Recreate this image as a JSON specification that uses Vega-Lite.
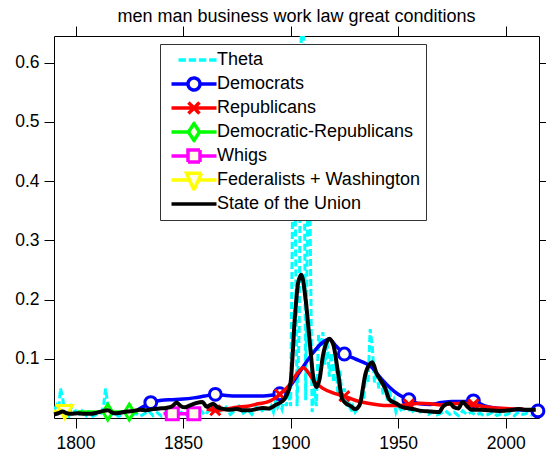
{
  "$schema": "https://vega.github.io/schema/vega-lite/v6.json",
  "width": 485,
  "height": 382,
  "autosize": {"type": "none"},
  "padding": {"left": 54, "top": 36, "right": 7, "bottom": 38},
  "background": "white",
  "title": {"text": "men man business work law great conditions", "fontSize": 18, "font": "Liberation Sans", "fontWeight": "normal", "color": "black", "offset": 0, "anchor": "middle"},
  "config": {
    "font": "Liberation Sans",
    "view": {"stroke": null},
    "axis": {"domainColor": "black", "tickColor": "black", "labelColor": "black", "labelFont": "Liberation Sans", "labelFontSize": 17.5, "tickSize": 10, "grid": false, "domainWidth": 1, "tickWidth": 1, "labelOverlap": false}
  },
  "datasets": {
    "theta": [
      {"s":"Theta","x":1790,"y":0.012},{"s":"Theta","x":1791,"y":0.02},{"s":"Theta","x":1792,"y":0.006},{"s":"Theta","x":1793,"y":0.05},{"s":"Theta","x":1794,"y":0.035},{"s":"Theta","x":1795,"y":0.008},{"s":"Theta","x":1796,"y":0.015},{"s":"Theta","x":1797,"y":0.004},{"s":"Theta","x":1798,"y":0.018},{"s":"Theta","x":1799,"y":0.01},{"s":"Theta","x":1800,"y":0.012},{"s":"Theta","x":1801,"y":0.003},{"s":"Theta","x":1803,"y":0.012},{"s":"Theta","x":1805,"y":0.004},{"s":"Theta","x":1806,"y":0.01},{"s":"Theta","x":1808,"y":0.003},{"s":"Theta","x":1810,"y":0.006},{"s":"Theta","x":1812,"y":0.008},{"s":"Theta","x":1813,"y":0.02},{"s":"Theta","x":1814,"y":0.05},{"s":"Theta","x":1815,"y":0.022},{"s":"Theta","x":1816,"y":0.004},{"s":"Theta","x":1818,"y":0.008},{"s":"Theta","x":1820,"y":0.003},{"s":"Theta","x":1822,"y":0.006},{"s":"Theta","x":1824,"y":0.01},{"s":"Theta","x":1826,"y":0.004},{"s":"Theta","x":1828,"y":0.008},{"s":"Theta","x":1830,"y":0.003},{"s":"Theta","x":1832,"y":0.007},{"s":"Theta","x":1834,"y":0.012},{"s":"Theta","x":1836,"y":0.004},{"s":"Theta","x":1838,"y":0.009},{"s":"Theta","x":1840,"y":0.003},{"s":"Theta","x":1842,"y":0.01},{"s":"Theta","x":1844,"y":0.005},{"s":"Theta","x":1846,"y":0.015},{"s":"Theta","x":1848,"y":0.006},{"s":"Theta","x":1850,"y":0.012},{"s":"Theta","x":1852,"y":0.004},{"s":"Theta","x":1854,"y":0.01},{"s":"Theta","x":1856,"y":0.006},{"s":"Theta","x":1858,"y":0.014},{"s":"Theta","x":1860,"y":0.005},{"s":"Theta","x":1862,"y":0.012},{"s":"Theta","x":1864,"y":0.02},{"s":"Theta","x":1865,"y":0.008},{"s":"Theta","x":1866,"y":0.015},{"s":"Theta","x":1868,"y":0.01},{"s":"Theta","x":1870,"y":0.018},{"s":"Theta","x":1872,"y":0.006},{"s":"Theta","x":1874,"y":0.012},{"s":"Theta","x":1876,"y":0.02},{"s":"Theta","x":1878,"y":0.008},{"s":"Theta","x":1880,"y":0.014},{"s":"Theta","x":1882,"y":0.006},{"s":"Theta","x":1884,"y":0.018},{"s":"Theta","x":1886,"y":0.01},{"s":"Theta","x":1888,"y":0.016},{"s":"Theta","x":1890,"y":0.012},{"s":"Theta","x":1891,"y":0.02},{"s":"Theta","x":1892,"y":0.01},{"s":"Theta","x":1893,"y":0.03},{"s":"Theta","x":1894,"y":0.018},{"s":"Theta","x":1895,"y":0.025},{"s":"Theta","x":1896,"y":0.015},{"s":"Theta","x":1897,"y":0.035},{"s":"Theta","x":1898,"y":0.02},{"s":"Theta","x":1899,"y":0.045},{"s":"Theta","x":1900,"y":0.02},{"s":"Theta","x":1901,"y":0.38},{"s":"Theta","x":1902,"y":0.42},{"s":"Theta","x":1903,"y":0.02},{"s":"Theta","x":1904,"y":0.15},{"s":"Theta","x":1905,"y":0.68},{"s":"Theta","x":1906,"y":0.7},{"s":"Theta","x":1907,"y":0.03},{"s":"Theta","x":1908,"y":0.38},{"s":"Theta","x":1909,"y":0.36},{"s":"Theta","x":1910,"y":0.01},{"s":"Theta","x":1911,"y":0.05},{"s":"Theta","x":1912,"y":0.02},{"s":"Theta","x":1913,"y":0.14},{"s":"Theta","x":1914,"y":0.12},{"s":"Theta","x":1915,"y":0.145},{"s":"Theta","x":1916,"y":0.09},{"s":"Theta","x":1917,"y":0.13},{"s":"Theta","x":1918,"y":0.07},{"s":"Theta","x":1919,"y":0.11},{"s":"Theta","x":1920,"y":0.06},{"s":"Theta","x":1921,"y":0.1},{"s":"Theta","x":1922,"y":0.04},{"s":"Theta","x":1923,"y":0.08},{"s":"Theta","x":1924,"y":0.03},{"s":"Theta","x":1925,"y":0.05},{"s":"Theta","x":1926,"y":0.02},{"s":"Theta","x":1927,"y":0.03},{"s":"Theta","x":1928,"y":0.01},{"s":"Theta","x":1929,"y":0.02},{"s":"Theta","x":1930,"y":0.01},{"s":"Theta","x":1931,"y":0.015},{"s":"Theta","x":1932,"y":0.02},{"s":"Theta","x":1933,"y":0.04},{"s":"Theta","x":1934,"y":0.03},{"s":"Theta","x":1935,"y":0.08},{"s":"Theta","x":1936,"y":0.06},{"s":"Theta","x":1937,"y":0.15},{"s":"Theta","x":1938,"y":0.12},{"s":"Theta","x":1939,"y":0.06},{"s":"Theta","x":1940,"y":0.08},{"s":"Theta","x":1941,"y":0.05},{"s":"Theta","x":1942,"y":0.07},{"s":"Theta","x":1943,"y":0.04},{"s":"Theta","x":1944,"y":0.06},{"s":"Theta","x":1945,"y":0.03},{"s":"Theta","x":1946,"y":0.05},{"s":"Theta","x":1947,"y":0.02},{"s":"Theta","x":1948,"y":0.03},{"s":"Theta","x":1949,"y":0.01},{"s":"Theta","x":1950,"y":0.02},{"s":"Theta","x":1952,"y":0.01},{"s":"Theta","x":1954,"y":0.025},{"s":"Theta","x":1956,"y":0.008},{"s":"Theta","x":1958,"y":0.015},{"s":"Theta","x":1960,"y":0.01},{"s":"Theta","x":1962,"y":0.012},{"s":"Theta","x":1964,"y":0.006},{"s":"Theta","x":1966,"y":0.01},{"s":"Theta","x":1968,"y":0.005},{"s":"Theta","x":1970,"y":0.008},{"s":"Theta","x":1972,"y":0.012},{"s":"Theta","x":1974,"y":0.006},{"s":"Theta","x":1976,"y":0.01},{"s":"Theta","x":1978,"y":0.004},{"s":"Theta","x":1980,"y":0.012},{"s":"Theta","x":1982,"y":0.006},{"s":"Theta","x":1984,"y":0.01},{"s":"Theta","x":1986,"y":0.005},{"s":"Theta","x":1988,"y":0.008},{"s":"Theta","x":1990,"y":0.004},{"s":"Theta","x":1992,"y":0.006},{"s":"Theta","x":1994,"y":0.01},{"s":"Theta","x":1996,"y":0.004},{"s":"Theta","x":1998,"y":0.007},{"s":"Theta","x":2000,"y":0.005},{"s":"Theta","x":2002,"y":0.008},{"s":"Theta","x":2004,"y":0.004},{"s":"Theta","x":2006,"y":0.01},{"s":"Theta","x":2008,"y":0.006},{"s":"Theta","x":2010,"y":0.008},{"s":"Theta","x":2012,"y":0.005},{"s":"Theta","x":2014,"y":0.01}
    ],
    "parties": [
      {"s":"Democrats","x":1829,"y":0.014},{"s":"Democrats","x":1832,"y":0.02},{"s":"Democrats","x":1835,"y":0.026},{"s":"Democrats","x":1840,"y":0.03},{"s":"Democrats","x":1845,"y":0.031},{"s":"Democrats","x":1850,"y":0.032},{"s":"Democrats","x":1855,"y":0.034},{"s":"Democrats","x":1860,"y":0.037},{"s":"Democrats","x":1865,"y":0.04},{"s":"Democrats","x":1870,"y":0.038},{"s":"Democrats","x":1875,"y":0.037},{"s":"Democrats","x":1880,"y":0.037},{"s":"Democrats","x":1885,"y":0.037},{"s":"Democrats","x":1890,"y":0.038},{"s":"Democrats","x":1895,"y":0.041},{"s":"Democrats","x":1900,"y":0.055},{"s":"Democrats","x":1905,"y":0.082},{"s":"Democrats","x":1910,"y":0.108},{"s":"Democrats","x":1915,"y":0.128},{"s":"Democrats","x":1918,"y":0.133},{"s":"Democrats","x":1921,"y":0.122},{"s":"Democrats","x":1925,"y":0.108},{"s":"Democrats","x":1930,"y":0.1},{"s":"Democrats","x":1935,"y":0.092},{"s":"Democrats","x":1938,"y":0.085},{"s":"Democrats","x":1940,"y":0.076},{"s":"Democrats","x":1943,"y":0.063},{"s":"Democrats","x":1946,"y":0.052},{"s":"Democrats","x":1950,"y":0.04},{"s":"Democrats","x":1955,"y":0.031},{"s":"Democrats","x":1960,"y":0.024},{"s":"Democrats","x":1965,"y":0.023},{"s":"Democrats","x":1970,"y":0.026},{"s":"Democrats","x":1975,"y":0.028},{"s":"Democrats","x":1980,"y":0.028},{"s":"Democrats","x":1985,"y":0.029},{"s":"Democrats","x":1990,"y":0.021},{"s":"Democrats","x":1995,"y":0.017},{"s":"Democrats","x":2000,"y":0.015},{"s":"Democrats","x":2005,"y":0.014},{"s":"Democrats","x":2010,"y":0.013},{"s":"Democrats","x":2015,"y":0.012},
      {"s":"Republicans","x":1861,"y":0.015},{"s":"Republicans","x":1865,"y":0.013},{"s":"Republicans","x":1870,"y":0.015},{"s":"Republicans","x":1875,"y":0.018},{"s":"Republicans","x":1880,"y":0.02},{"s":"Republicans","x":1885,"y":0.024},{"s":"Republicans","x":1890,"y":0.028},{"s":"Republicans","x":1895,"y":0.04},{"s":"Republicans","x":1900,"y":0.058},{"s":"Republicans","x":1903,"y":0.075},{"s":"Republicans","x":1906,"y":0.085},{"s":"Republicans","x":1908,"y":0.078},{"s":"Republicans","x":1911,"y":0.062},{"s":"Republicans","x":1915,"y":0.05},{"s":"Republicans","x":1920,"y":0.042},{"s":"Republicans","x":1925,"y":0.037},{"s":"Republicans","x":1930,"y":0.03},{"s":"Republicans","x":1936,"y":0.025},{"s":"Republicans","x":1945,"y":0.021},{"s":"Republicans","x":1950,"y":0.021},{"s":"Republicans","x":1955,"y":0.023},{"s":"Republicans","x":1960,"y":0.025},{"s":"Republicans","x":1965,"y":0.024},{"s":"Republicans","x":1970,"y":0.022},{"s":"Republicans","x":1975,"y":0.024},{"s":"Republicans","x":1980,"y":0.025},{"s":"Republicans","x":1985,"y":0.023},{"s":"Republicans","x":1990,"y":0.019},{"s":"Republicans","x":1995,"y":0.017},{"s":"Republicans","x":2000,"y":0.016},{"s":"Republicans","x":2005,"y":0.015},{"s":"Republicans","x":2008,"y":0.015},
      {"s":"Democratic-Republicans","x":1801,"y":0.01},{"s":"Democratic-Republicans","x":1805,"y":0.01},{"s":"Democratic-Republicans","x":1810,"y":0.01},{"s":"Democratic-Republicans","x":1815,"y":0.01},{"s":"Democratic-Republicans","x":1820,"y":0.01},{"s":"Democratic-Republicans","x":1825,"y":0.01},{"s":"Democratic-Republicans","x":1829,"y":0.01},
      {"s":"Whigs","x":1841,"y":0.007},{"s":"Whigs","x":1845,"y":0.007},{"s":"Whigs","x":1850,"y":0.007},{"s":"Whigs","x":1855,"y":0.007},{"s":"Whigs","x":1857,"y":0.007},
      {"s":"Federalists + Washington","x":1790,"y":0.011},{"s":"Federalists + Washington","x":1793,"y":0.011},{"s":"Federalists + Washington","x":1795,"y":0.01},{"s":"Federalists + Washington","x":1798,"y":0.011}
    ],
    "markers": [
      {"s":"Democrats","x":1835,"y":0.026},{"s":"Democrats","x":1865,"y":0.04},{"s":"Democrats","x":1895,"y":0.041},{"s":"Democrats","x":1925,"y":0.108},{"s":"Democrats","x":1955,"y":0.031},{"s":"Democrats","x":1985,"y":0.029},{"s":"Democrats","x":2015,"y":0.012},
      {"s":"Republicans","x":1865,"y":0.013},{"s":"Republicans","x":1895,"y":0.04},{"s":"Republicans","x":1925,"y":0.037},{"s":"Republicans","x":1955,"y":0.023},{"s":"Republicans","x":1985,"y":0.023},
      {"s":"Democratic-Republicans","x":1815,"y":0.01},{"s":"Democratic-Republicans","x":1825,"y":0.01},
      {"s":"Whigs","x":1845,"y":0.007},{"s":"Whigs","x":1855,"y":0.007},
      {"s":"Federalists + Washington","x":1795,"y":0.01}
    ],
    "sotu": [
      {"s":"State of the Union","x":1790,"y":0.006},{"s":"State of the Union","x":1792,"y":0.008},{"s":"State of the Union","x":1794,"y":0.011},{"s":"State of the Union","x":1796,"y":0.008},{"s":"State of the Union","x":1798,"y":0.007},{"s":"State of the Union","x":1801,"y":0.008},{"s":"State of the Union","x":1804,"y":0.007},{"s":"State of the Union","x":1807,"y":0.007},{"s":"State of the Union","x":1810,"y":0.009},{"s":"State of the Union","x":1813,"y":0.012},{"s":"State of the Union","x":1815,"y":0.013},{"s":"State of the Union","x":1818,"y":0.008},{"s":"State of the Union","x":1821,"y":0.009},{"s":"State of the Union","x":1824,"y":0.011},{"s":"State of the Union","x":1827,"y":0.012},{"s":"State of the Union","x":1830,"y":0.014},{"s":"State of the Union","x":1833,"y":0.013},{"s":"State of the Union","x":1836,"y":0.015},{"s":"State of the Union","x":1839,"y":0.016},{"s":"State of the Union","x":1842,"y":0.017},{"s":"State of the Union","x":1845,"y":0.02},{"s":"State of the Union","x":1847,"y":0.026},{"s":"State of the Union","x":1849,"y":0.02},{"s":"State of the Union","x":1851,"y":0.018},{"s":"State of the Union","x":1853,"y":0.021},{"s":"State of the Union","x":1856,"y":0.025},{"s":"State of the Union","x":1859,"y":0.027},{"s":"State of the Union","x":1861,"y":0.019},{"s":"State of the Union","x":1864,"y":0.024},{"s":"State of the Union","x":1866,"y":0.018},{"s":"State of the Union","x":1868,"y":0.016},{"s":"State of the Union","x":1871,"y":0.014},{"s":"State of the Union","x":1875,"y":0.015},{"s":"State of the Union","x":1878,"y":0.013},{"s":"State of the Union","x":1881,"y":0.013},{"s":"State of the Union","x":1884,"y":0.015},{"s":"State of the Union","x":1887,"y":0.017},{"s":"State of the Union","x":1890,"y":0.016},{"s":"State of the Union","x":1893,"y":0.022},{"s":"State of the Union","x":1896,"y":0.028},{"s":"State of the Union","x":1898,"y":0.037},{"s":"State of the Union","x":1900,"y":0.06},{"s":"State of the Union","x":1902,"y":0.17},{"s":"State of the Union","x":1903.5,"y":0.228},{"s":"State of the Union","x":1905,"y":0.242},{"s":"State of the Union","x":1907,"y":0.2},{"s":"State of the Union","x":1909,"y":0.125},{"s":"State of the Union","x":1910.5,"y":0.07},{"s":"State of the Union","x":1912,"y":0.052},{"s":"State of the Union","x":1913.5,"y":0.066},{"s":"State of the Union","x":1915,"y":0.104},{"s":"State of the Union","x":1917,"y":0.13},{"s":"State of the Union","x":1918,"y":0.134},{"s":"State of the Union","x":1920,"y":0.122},{"s":"State of the Union","x":1922,"y":0.078},{"s":"State of the Union","x":1924,"y":0.032},{"s":"State of the Union","x":1926,"y":0.024},{"s":"State of the Union","x":1928,"y":0.02},{"s":"State of the Union","x":1930,"y":0.015},{"s":"State of the Union","x":1932,"y":0.021},{"s":"State of the Union","x":1935,"y":0.077},{"s":"State of the Union","x":1938,"y":0.094},{"s":"State of the Union","x":1940,"y":0.075},{"s":"State of the Union","x":1942,"y":0.063},{"s":"State of the Union","x":1944,"y":0.05},{"s":"State of the Union","x":1946,"y":0.031},{"s":"State of the Union","x":1949,"y":0.025},{"s":"State of the Union","x":1951,"y":0.02},{"s":"State of the Union","x":1954,"y":0.017},{"s":"State of the Union","x":1957,"y":0.015},{"s":"State of the Union","x":1961,"y":0.012},{"s":"State of the Union","x":1965,"y":0.011},{"s":"State of the Union","x":1969,"y":0.01},{"s":"State of the Union","x":1971,"y":0.02},{"s":"State of the Union","x":1974,"y":0.025},{"s":"State of the Union","x":1976,"y":0.018},{"s":"State of the Union","x":1978,"y":0.016},{"s":"State of the Union","x":1980,"y":0.027},{"s":"State of the Union","x":1982,"y":0.02},{"s":"State of the Union","x":1984,"y":0.014},{"s":"State of the Union","x":1988,"y":0.014},{"s":"State of the Union","x":1992,"y":0.013},{"s":"State of the Union","x":1997,"y":0.012},{"s":"State of the Union","x":2002,"y":0.013},{"s":"State of the Union","x":2006,"y":0.015},{"s":"State of the Union","x":2010,"y":0.014},{"s":"State of the Union","x":2014,"y":0.014}
    ]
  },
  "resolve": {"axis": {"x": "independent", "y": "independent"}},
  "layer": [
    {
      "data": {"name": "theta"},
      "mark": {"type": "line", "strokeWidth": 3, "strokeDash": [7, 3], "clip": true},
      "encoding": {
        "x": {"field": "x", "type": "quantitative", "scale": {"domain": [1790, 2015.5], "nice": false, "zero": false}, "axis": {"orient": "bottom", "values": [1800, 1850, 1900, 1950, 2000], "format": "d", "title": null, "labelPadding": 6}},
        "y": {"field": "y", "type": "quantitative", "scale": {"domain": [0, 0.645], "nice": false, "zero": false}, "axis": {"orient": "left", "values": [0.1, 0.2, 0.3, 0.4, 0.5, 0.6], "format": ".1f", "title": null, "labelPadding": 5}},
        "color": {"field": "s", "type": "nominal", "sort": null,
          "scale": {"domain": ["Theta", "Democrats", "Republicans", "Democratic-Republicans", "Whigs", "Federalists + Washington", "State of the Union"], "range": ["#00FFFF", "#0000FF", "#FF0000", "#00FF00", "#FF00FF", "#FFFF00", "#000000"]},
          "legend": {"title": null, "orient": "none", "legendX": 106, "legendY": 8, "fillColor": "white", "strokeColor": "#333333", "padding": 5.5, "symbolSize": 100, "symbolStrokeWidth": 3.5, "labelFont": "Liberation Sans", "labelFontSize": 18, "labelColor": "black", "labelOffset": 33.5, "rowPadding": 3, "clipHeight": 21, "gridAlign": "all", "labelLimit": 0,
            "encoding": {"symbols": {
              "fill": {"value": "#FFFDE8"},
              "strokeWidth": {"value": 3.5},
              "strokeDash": {"value": [1, 0]},
              "size": {"value": 100},
              "shape": {"value": {"expr": "datum.value == 'Theta' ? 'M0.8,0H2.29M2.84,0H4.33M4.88,0H6.37M6.92,0H8.4' : datum.value == 'Democrats' ? 'M-0.6,0H2.7M5.1,0H8.4M5.1,0A1.2,1.2,0,1,1,2.7,0A1.2,1.2,0,1,1,5.1,0' : datum.value == 'Republicans' ? 'M-0.6,0H8.4M2.8,-1.1L5,1.1M2.8,1.1L5,-1.1' : datum.value == 'Democratic-Republicans' ? 'M-0.6,0H2.8M5,0H8.4M3.9,-1.7L5,0L3.9,1.7L2.8,0Z' : datum.value == 'Whigs' ? 'M-0.6,0H2.7M5.1,0H8.4M2.7,-1.2H5.1V1.2H2.7Z' : datum.value == 'Federalists + Washington' ? 'M-0.6,0H3M4.8,0H8.4M2.4,-1.35H5.4L3.9,2Z' : 'M-0.6,0H8.4'"}}
            }}
          }
        }
      }
    },
    {
      "data": {"name": "parties"},
      "transform": [{"filter": "datum.s == 'Democrats'"}],
      "mark": {"type": "line", "strokeWidth": 3.5, "interpolate": "monotone"},
      "encoding": {
        "x": {"field": "x", "type": "quantitative", "axis": null},
        "y": {"field": "y", "type": "quantitative", "axis": null},
        "color": {"field": "s", "type": "nominal"}
      }
    },
    {
      "data": {"name": "markers"},
      "transform": [{"filter": "datum.s == 'Democrats'"}],
      "mark": {"type": "point", "shape": "circle", "size": 140, "filled": true, "fill": "#FFFDE8", "stroke": "#0000FF", "strokeWidth": 3, "opacity": 1},
      "encoding": {
        "x": {"field": "x", "type": "quantitative", "axis": null},
        "y": {"field": "y", "type": "quantitative", "axis": null}
      }
    },
    {
      "data": {"name": "parties"},
      "transform": [{"filter": "datum.s == 'Republicans'"}],
      "mark": {"type": "line", "strokeWidth": 3.5, "interpolate": "monotone"},
      "encoding": {
        "x": {"field": "x", "type": "quantitative", "axis": null},
        "y": {"field": "y", "type": "quantitative", "axis": null},
        "color": {"field": "s", "type": "nominal"}
      }
    },
    {
      "data": {"name": "markers"},
      "transform": [{"filter": "datum.s == 'Republicans'"}],
      "mark": {"type": "point", "shape": "M-1,-1L1,1M-1,1L1,-1", "size": 100, "filled": false, "stroke": "#FF0000", "strokeWidth": 3, "opacity": 1},
      "encoding": {
        "x": {"field": "x", "type": "quantitative", "axis": null},
        "y": {"field": "y", "type": "quantitative", "axis": null}
      }
    },
    {
      "data": {"name": "parties"},
      "transform": [{"filter": "datum.s == 'Democratic-Republicans'"}],
      "mark": {"type": "line", "strokeWidth": 3.5},
      "encoding": {
        "x": {"field": "x", "type": "quantitative", "axis": null},
        "y": {"field": "y", "type": "quantitative", "axis": null},
        "color": {"field": "s", "type": "nominal"}
      }
    },
    {
      "data": {"name": "markers"},
      "transform": [{"filter": "datum.s == 'Democratic-Republicans'"}],
      "mark": {"type": "point", "shape": "M-0.6,0L0,-1L0.6,0L0,1Z", "size": 256, "filled": true, "fill": "#FFFDE8", "stroke": "#00FF00", "strokeWidth": 3, "opacity": 1},
      "encoding": {
        "x": {"field": "x", "type": "quantitative", "axis": null},
        "y": {"field": "y", "type": "quantitative", "axis": null}
      }
    },
    {
      "data": {"name": "parties"},
      "transform": [{"filter": "datum.s == 'Whigs'"}],
      "mark": {"type": "line", "strokeWidth": 3.5},
      "encoding": {
        "x": {"field": "x", "type": "quantitative", "axis": null},
        "y": {"field": "y", "type": "quantitative", "axis": null},
        "color": {"field": "s", "type": "nominal"}
      }
    },
    {
      "data": {"name": "markers"},
      "transform": [{"filter": "datum.s == 'Whigs'"}],
      "mark": {"type": "point", "shape": "square", "size": 144, "filled": true, "fill": "#FFFDE8", "stroke": "#FF00FF", "strokeWidth": 3, "opacity": 1},
      "encoding": {
        "x": {"field": "x", "type": "quantitative", "axis": null},
        "y": {"field": "y", "type": "quantitative", "axis": null}
      }
    },
    {
      "data": {"name": "parties"},
      "transform": [{"filter": "datum.s == 'Federalists + Washington'"}],
      "mark": {"type": "line", "strokeWidth": 3.5},
      "encoding": {
        "x": {"field": "x", "type": "quantitative", "axis": null},
        "y": {"field": "y", "type": "quantitative", "axis": null},
        "color": {"field": "s", "type": "nominal"}
      }
    },
    {
      "data": {"name": "markers"},
      "transform": [{"filter": "datum.s == 'Federalists + Washington'"}],
      "mark": {"type": "point", "shape": "triangle-down", "size": 225, "filled": true, "fill": "#FFFDE8", "stroke": "#FFFF00", "strokeWidth": 3, "opacity": 1},
      "encoding": {
        "x": {"field": "x", "type": "quantitative", "axis": null},
        "y": {"field": "y", "type": "quantitative", "axis": null}
      }
    },
    {
      "data": {"name": "sotu"},
      "mark": {"type": "line", "strokeWidth": 4, "interpolate": "monotone"},
      "encoding": {
        "x": {"field": "x", "type": "quantitative", "scale": {"domain": [1790, 2015.5], "nice": false, "zero": false}, "axis": {"orient": "top", "values": [1800, 1850, 1900, 1950, 2000], "labels": false, "title": null}},
        "y": {"field": "y", "type": "quantitative", "scale": {"domain": [0, 0.645], "nice": false, "zero": false}, "axis": {"orient": "right", "values": [0.1, 0.2, 0.3, 0.4, 0.5, 0.6], "labels": false, "title": null}},
        "color": {"field": "s", "type": "nominal"}
      }
    }
  ]
}
